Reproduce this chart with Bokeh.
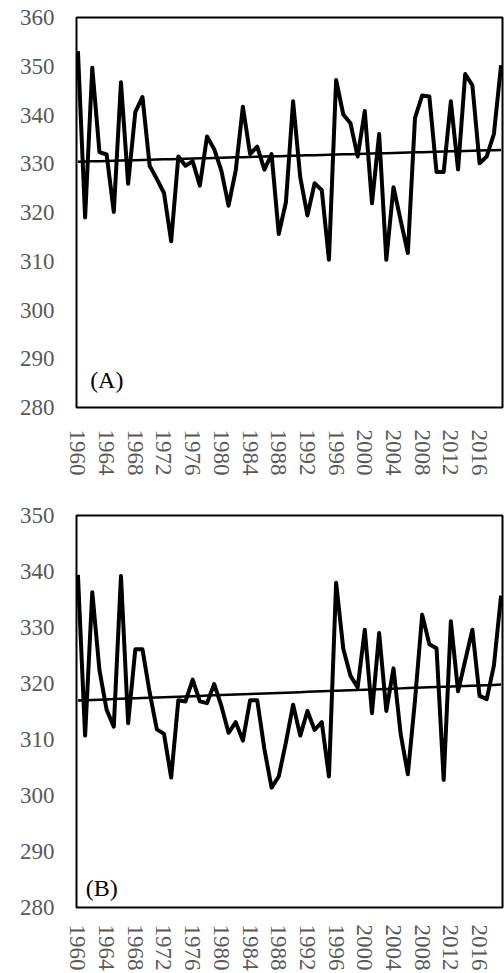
import numpy as np
from bokeh.plotting import figure
from bokeh.layouts import column
from bokeh.models import FixedTicker, Range1d, Label
from bokeh.embed import file_html
from bokeh.resources import INLINE

years = list(range(1960, 2020))
series_a = [353.1, 319.0, 349.7, 332.4, 331.9, 320.1, 346.7, 325.9, 340.6, 343.7,
            329.6, 326.9, 324.0, 314.1, 331.5, 329.6, 330.5, 325.5, 335.6, 333.0,
            328.6, 321.4, 328.6, 341.7, 332.0, 333.5, 328.8, 332.0, 315.6, 322.1,
            342.8, 327.2, 319.4, 326.0, 324.6, 310.3, 347.2, 340.1, 338.3, 331.5,
            340.8, 321.9, 336.1, 310.3, 325.2, 318.4, 311.7, 339.4, 344.0, 343.8,
            328.3, 328.3, 342.8, 328.8, 348.4, 346.1, 330.1, 331.5, 336.1, 350.2]
series_b = [339.4, 310.7, 336.3, 322.4, 315.3, 312.3, 339.2, 312.9, 326.1, 326.1,
            318.4, 311.8, 311.0, 303.2, 317.0, 316.8, 320.7, 316.8, 316.5, 319.9,
            316.0, 311.2, 313.1, 309.8, 317.0, 317.0, 308.3, 301.4, 303.4, 309.5,
            316.2, 310.7, 315.1, 311.7, 313.1, 303.4, 338.0, 326.2, 321.4, 319.3,
            329.6, 314.7, 329.0, 315.1, 322.7, 311.0, 303.8, 317.0, 332.3, 327.0,
            326.3, 302.8, 331.1, 318.6, 324.1, 329.6, 317.8, 317.2, 323.2, 335.7]
x_ticks = list(range(1960, 2017, 4))
y_ticks_a = list(range(280, 361, 10))
y_ticks_b = list(range(280, 351, 10))

FONT = "Liberation Serif"
GREY = "#595959"


def make_panel(vals, yticks, tag, height, top, bottom, tag_x, tag_y, xstand):
    p = figure(width=504, height=height, output_backend="svg", toolbar_location=None,
               x_range=Range1d(1959.8, 2019.2), y_range=Range1d(yticks[0], yticks[-1]),
               min_border_left=76, min_border_right=2, min_border_top=top,
               min_border_bottom=bottom)
    p.xgrid.visible = False
    p.ygrid.visible = False
    p.outline_line_color = "black"
    p.outline_line_width = 2
    for ax in (p.xaxis[0], p.yaxis[0]):
        ax.axis_line_color = None
        ax.major_tick_line_color = None
        ax.minor_tick_line_color = None
        ax.major_tick_out = 0
        ax.major_tick_in = 0
        ax.major_label_text_font = FONT
        ax.major_label_text_font_size = "23px"
        ax.major_label_text_color = GREY
    p.xaxis.ticker = FixedTicker(ticks=x_ticks)
    p.yaxis.ticker = FixedTicker(ticks=yticks)
    p.xaxis.major_label_orientation = "vertical"
    p.xaxis.major_label_standoff = xstand
    p.yaxis.major_label_standoff = 22

    p.line(years, vals, line_color="black", line_width=4, line_join="round")
    k, b = np.polyfit(years, vals, 1)
    trend = [k * yr + b for yr in years]
    p.line(years, trend, line_color="black", line_width=2.5)

    p.add_layout(Label(x=tag_x, y=tag_y, text=tag, text_font=FONT,
                       text_font_size="24px", text_color="black",
                       text_baseline="alphabetic"))
    return p


pa = make_panel(series_a, y_ticks_a, "(A)", 490, 17, 83, 1961.7, 285.6, 22)
pb = make_panel(series_b, y_ticks_b, "(B)", 483, 25, 66, 1961.1, 283.4, 17)

layout = column(pa, pb, spacing=0)
open("out.html", "w").write(file_html(layout, INLINE))
